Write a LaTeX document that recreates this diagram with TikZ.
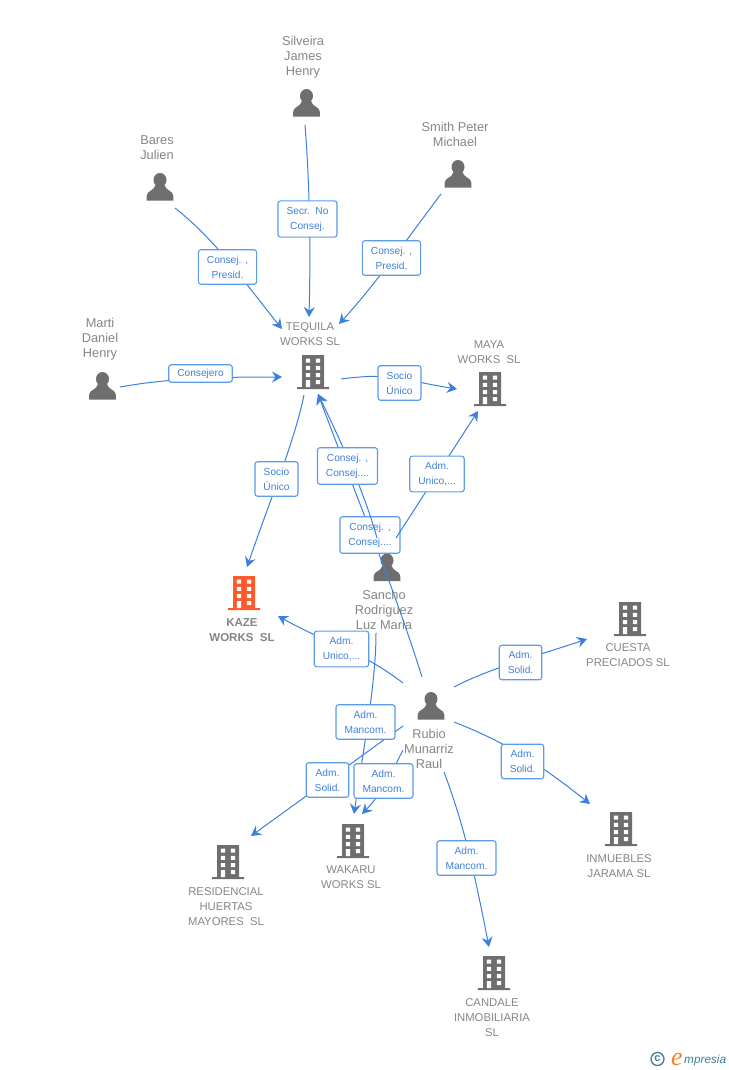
\documentclass[tikz,border=0pt]{standalone}
\usepackage{fontspec}
\setmainfont{Liberation Sans}
\newfontfamily\logoserif{Liberation Serif}
\usetikzlibrary{arrows.meta}
\definecolor{linkblue}{HTML}{3B7FE0}
\definecolor{boxblue}{HTML}{5A9BEA}
\definecolor{labelblue}{HTML}{3F80DC}
\definecolor{iconGray}{HTML}{6E6E6E}
\definecolor{textGray}{HTML}{858585}
\definecolor{kazeOrange}{HTML}{FF5A2B}
\definecolor{logoTeal}{HTML}{3F7F9B}
\definecolor{logoOrange}{HTML}{F58220}
\tikzset{
  link/.style={draw=linkblue, line width=1pt},
  arrowlink/.style={link, -{Stealth[length=10pt,width=11pt,inset=3.5pt]}},
  labelbox/.style={draw=boxblue, line width=1.1pt, fill=white, rounded corners=2.5pt, text=labelblue,
    align=center, inner xsep=8.5pt, inner ysep=6pt, font=\fontsize{10.2}{15}\selectfont},
  personname/.style={text=textGray, align=center, inner sep=0pt, font=\fontsize{12.8}{15}\selectfont},
  companyname/.style={text=textGray, align=center, inner sep=0pt, font=\fontsize{11.3}{15}\selectfont},
  pics/person/.style={code={
    \fill[iconGray] (0,-7) ellipse [x radius=6.5, y radius=7];
    \fill[iconGray] (-13.5,13.7) -- (-13.2,8) .. controls (-12.5,3.5) and (-6,4) .. (-4.5,-2) -- (4.5,-2)
      .. controls (6,4) and (12.5,3.5) .. (13.2,8) -- (13.5,13.7) -- cycle;
  }},
  pics/building/.style={code={
    \fill[#1] (-11,-17) rectangle (11,15)
    (-16,15) rectangle (16,17);
    \fill[white]
    (-7.2,-13.5) rectangle (-2.8,-9.5)
    (2.8,-13.5) rectangle (7.2,-9.5)
    (-7.2,-6.2) rectangle (-2.8,-2.2)
    (2.8,-6.2) rectangle (7.2,-2.2)
    (-7.2,1) rectangle (-2.8,5)
    (2.8,1) rectangle (7.2,5)
    (-7.2,8) rectangle (-2.8,15)
    (2.8,8) rectangle (7.2,12);
  }},
}
\begin{document}
\begin{tikzpicture}[x=1pt,y=-1pt]
\useasboundingbox (0,0) rectangle (728,1070);
% people
\pic at (306.5,103) {person};
\pic at (160,187) {person};
\pic at (458,174) {person};
\pic at (102.5,386) {person};
\pic at (387,567.5) {person};
\pic at (431,706) {person};
\node[personname] (silveira) at (303,57) {Silveira\\James\\Henry};
\node[personname] (bares) at (157,147.5) {Bares\\Julien};
\node[personname] (smith) at (455,134.5) {Smith Peter\\Michael};
\node[personname] (marti) at (100,339) {Marti\\Daniel\\Henry};
\node[personname] (sancho) at (384,610) {Sancho\\Rodriguez\\Luz Maria};
\node[personname] (rubio) at (429,749) {Rubio\\Munarriz\\Raul};
% companies
\pic at (313,372) {building=iconGray};
\pic at (490,389) {building=iconGray};
\pic at (244,593) {building=kazeOrange};
\pic at (630,619) {building=iconGray};
\pic at (621,829) {building=iconGray};
\pic at (228,862) {building=iconGray};
\pic at (353,841) {building=iconGray};
\pic at (494,973) {building=iconGray};
\node[companyname] (tequila) at (310,334.5) {TEQUILA\\WORKS SL};
\node[companyname] (maya) at (489,352.5) {MAYA\\WORKS\ \ SL};
\node[companyname, font=\bfseries\fontsize{11.5}{15}\selectfont] (kaze) at (242,630.5) {KAZE\\WORKS\ \ SL};
\node[companyname] (cuesta) at (628,655.5) {CUESTA\\PRECIADOS SL};
\node[companyname] (inmuebles) at (619,866.5) {INMUEBLES\\JARAMA SL};
\node[companyname] (residencial) at (226,907) {RESIDENCIAL\\HUERTAS\\MAYORES\ \ SL};
\node[companyname] (wakaru) at (351,877.5) {WAKARU\\WORKS SL};
\node[companyname] (candale) at (492,1018) {CANDALE\\INMOBILIARIA\\SL};
% connector ends
\coordinate (silveiraout) at (305,125);
\coordinate (baresout) at (175,208);
\coordinate (smithout) at (441,194);
\coordinate (martiout) at (120,387);
\coordinate (tequilaoutmaya) at (341,379);
\coordinate (tequilaoutkaze) at (304,395);
\coordinate (sanchooutmaya) at (396,538);
\coordinate (sanchoouttequila) at (377,538);
\coordinate (sanchooutwakaru) at (376,633);
\coordinate (rubioouttequila) at (422,677);
\coordinate (rubiooutkaze) at (403,683);
\coordinate (rubiooutresid) at (403,726);
\coordinate (rubiooutwakaru) at (403,750);
\coordinate (rubiooutcuesta) at (454,687);
\coordinate (rubiooutinm) at (454,722);
\coordinate (rubiooutcandale) at (444,772);
\coordinate (tequilain1) at (309,317);
\coordinate (tequilain2) at (282,329);
\coordinate (tequilain3) at (339,324);
\coordinate (tequilain4) at (282,377);
\coordinate (tequilain5) at (318,394);
\coordinate (mayain1) at (457,389);
\coordinate (mayain2) at (478,411);
\coordinate (kazein1) at (247,567);
\coordinate (kazein2) at (278,616);
\coordinate (wakaruin1) at (354,814);
\coordinate (wakaruin2) at (362,814);
\coordinate (residin) at (251,836);
\coordinate (cuestain) at (587,639);
\coordinate (inmin) at (590,804);
\coordinate (candalein) at (489,947);
% this line and its box go under the two lines from Sancho
\draw[arrowlink] (rubioouttequila) .. controls (395,590) and (350,480) .. (tequilain5);
\node[labelbox] (lblrubioteq) at (370,535) {Consej. ,\\Consej....};
\draw[arrowlink] (sanchoouttequila) .. controls (365,495) and (345,450) .. (tequilain5);
\draw[arrowlink] (sanchooutmaya) -- (mayain2);
\draw[arrowlink] (silveiraout) .. controls (309,175) and (311,240) .. (tequilain1);
\draw[arrowlink] (baresout) .. controls (215,240) and (235,270) .. (tequilain2);
\draw[arrowlink] (smithout) .. controls (410,235) and (375,285) .. (tequilain3);
\draw[arrowlink] (martiout) .. controls (170,378) and (220,377) .. (tequilain4);
\draw[arrowlink] (tequilaoutmaya) .. controls (395,372) and (400,380) .. (mayain1);
\draw[arrowlink] (tequilaoutkaze) .. controls (295,440) and (270,500) .. (kazein1);
\draw[arrowlink] (rubiooutkaze) .. controls (360,650) and (330,645) .. (kazein2);
\draw[arrowlink] (sanchooutwakaru) .. controls (376,680) and (365,740) .. (wakaruin1);
\draw[arrowlink] (rubiooutresid) -- (residin);
\draw[arrowlink] (rubiooutwakaru) .. controls (395,765) and (385,790) .. (wakaruin2);
\draw[arrowlink] (rubiooutcuesta) .. controls (490,668) and (540,655) .. (cuestain);
\draw[arrowlink] (rubiooutinm) .. controls (500,740) and (535,760) .. (inmin);
\draw[arrowlink] (rubiooutcandale) .. controls (462,820) and (472,860) .. (candalein);
% boxes
\node[labelbox] (lblsecr) at (307.5,219) {Secr.\ \ No\\Consej.};
\node[labelbox] (lblbares) at (227.5,267) {Consej. ,\\Presid.};
\node[labelbox] (lblsmith) at (391.5,258) {Consej. ,\\Presid.};
\node[labelbox, inner ysep=4pt] (lblmarti) at (200.5,373.5) {Consejero};
\node[labelbox] (lblmaya) at (399.5,383) {Socio\\Único};
\node[labelbox] (lblkaze) at (276.5,479) {Socio\\Único};
\node[labelbox] (lblsanchoteq) at (347.5,466) {Consej. ,\\Consej....};
\node[labelbox] (lblsanchomaya) at (437,474) {Adm.\\Unico,...};
\node[labelbox] (lblrubiokaze) at (341.5,649) {Adm.\\Unico,...};
\node[labelbox] (lblsanchowak) at (365.5,722) {Adm.\\Mancom.};
\node[labelbox] (lblrubioresid) at (327.5,780) {Adm.\\Solid.};
\node[labelbox] (lblrubiowak) at (383.5,781) {Adm.\\Mancom.};
\node[labelbox] (lblcuesta) at (520.5,662.5) {Adm.\\Solid.};
\node[labelbox] (lblinm) at (522.5,761.5) {Adm.\\Solid.};
\node[labelbox] (lblcandale) at (466.5,858) {Adm.\\Mancom.};
% logo
\node[circle, draw=logoTeal, line width=1.3pt, text=logoTeal, minimum size=13pt, inner sep=0pt, font=\bfseries\fontsize{11}{11}\selectfont] (logoc) at (657.5,1059) {c};
\node[anchor=base, text=logoOrange, inner sep=0pt, font=\logoserif\itshape\fontsize{26}{26}\selectfont] (logoe) at (677,1065) {e};
\node[anchor=base west, text=logoTeal, inner sep=0pt, font=\itshape\fontsize{11.8}{11.8}\selectfont] (logotext) at (684,1063) {mpresia};
\end{tikzpicture}
\end{document}
